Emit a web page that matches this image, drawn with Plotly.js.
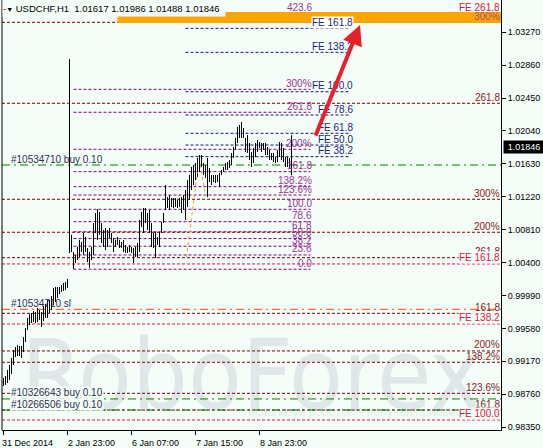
<!DOCTYPE html>
<html><head><meta charset="utf-8">
<script src="https://cdn.plot.ly/plotly-3.0.1.min.js"></script>
<style>html,body{margin:0;padding:0;background:#F5FDF9;}#chart{width:543px;height:448px;}</style>
</head><body><div id="chart"></div>
<script>
// ---------- data ----------
const tickIdx = [0, 32, 64, 96, 128];
const tickText = ["31 Dec 2014", "2 Jan 23:00", "6 Jan 07:00", "7 Jan 15:00", "8 Jan 23:00"];
const priceTicks = [0.98350, 0.98760, 0.99170, 0.99580, 0.99990, 1.00400, 1.00810, 1.01220, 1.01630, 1.02040, 1.02450, 1.02860, 1.03270];

const barHigh = [
0.98962,0.98987,0.99062,0.99124,0.99211,0.99311,0.99348,0.99373,0.99361,0.99361,
0.99473,0.99585,0.99710,0.99760,0.99772,0.99797,0.99785,0.99835,0.99810,0.99785,
0.99859,0.99884,0.99934,0.99934,0.99984,1.00084,1.00096,1.00096,1.00096,1.00121,
1.00146,1.00159,1.00196,1.02937,1.00744,1.00532,1.00495,1.00594,1.00682,1.00657,
1.00769,1.00719,1.00582,1.00532,1.00594,1.00893,1.01018,1.01068,1.01030,1.00893,
1.00806,1.00831,1.00806,1.00831,1.00769,1.00707,1.00682,1.00719,1.00682,1.00657,
1.00682,1.00619,1.00594,1.00619,1.00594,1.00582,1.00594,1.00644,1.00931,1.01030,
1.01080,1.01080,1.01018,1.01055,1.00893,1.00769,1.00781,1.00719,1.00781,1.00906,
1.01018,1.01367,1.01217,1.01242,1.01205,1.01205,1.01205,1.01180,1.01205,1.01217,
1.01242,1.01305,1.01429,1.01492,1.01591,1.01616,1.01641,1.01703,1.01741,1.01741,
1.01641,1.01616,1.01703,1.01579,1.01492,1.01492,1.01492,1.01492,1.01516,1.01554,
1.01591,1.01641,1.01653,1.01678,1.01766,1.01840,1.01953,1.02090,1.02115,1.02152,
1.02077,1.01953,1.01990,1.01890,1.01778,1.01828,1.01890,1.01928,1.01903,1.01890,
1.01890,1.01890,1.01840,1.01803,1.01766,1.01766,1.01716,1.01803,1.01903,1.01890,
1.01828,1.01716,1.01716,1.01703,1.01986];
const barLow = [
0.98862,0.98875,0.98900,0.98937,0.99012,0.99124,0.99224,0.99236,0.99236,0.99211,
0.99286,0.99411,0.99560,0.99622,0.99647,0.99660,0.99647,0.99660,0.99685,0.99598,
0.99672,0.99710,0.99710,0.99772,0.99810,0.99872,0.99909,0.99959,1.00009,1.00034,
1.00046,1.00059,1.00084,1.00520,1.00532,1.00320,1.00395,1.00432,1.00470,1.00532,
1.00495,1.00532,1.00407,1.00333,1.00432,1.00495,1.00769,1.00682,1.00744,1.00644,
1.00594,1.00557,1.00594,1.00707,1.00644,1.00532,1.00594,1.00619,1.00582,1.00582,
1.00532,1.00520,1.00520,1.00532,1.00520,1.00395,1.00470,1.00470,1.00532,1.00844,
1.00769,1.00893,1.00806,1.00769,1.00594,1.00582,1.00457,1.00619,1.00594,1.00769,
1.00893,1.01055,1.01080,1.01055,1.01093,1.01080,1.01093,1.01080,1.01093,1.01018,
1.01055,1.00931,1.01093,1.01180,1.01305,1.01367,1.01429,1.01467,1.01529,1.01591,
1.01492,1.01454,1.01217,1.01404,1.01367,1.01404,1.01392,1.01404,1.01342,1.01492,
1.01529,1.01554,1.01554,1.01579,1.01616,1.01703,1.01803,1.01890,1.01953,1.01953,
1.01953,1.01778,1.01766,1.01678,1.01591,1.01641,1.01716,1.01778,1.01828,1.01778,
1.01803,1.01741,1.01741,1.01678,1.01678,1.01653,1.01641,1.01653,1.01716,1.01678,
1.01653,1.01591,1.01591,1.01579,1.01488];

const lastOpen = 1.01617, lastHigh = 1.01986, lastLow = 1.01488, lastClose = 1.01846;

const purpleLevels = [1.03506,1.02559,1.02273,1.01812,1.01533,1.01346,1.01242,1.01064,1.00910,1.00784,1.00699,1.00604,1.00495,1.00317];
const purpleLabels = ["423.6","300%","261.8","200%","161.8","138.2%","123.6%","100.0","78.6","61.8","50.0","38.2","23.6","0.0"];
const navyLevels = [1.03319,1.03020,1.02529,1.02239,1.02011,1.01865,1.01720];
const navyLabels = ["FE 161.8","FE 138.2","FE 100.0","FE 78.6","FE 61.8","FE 50.0","FE 38.2"];
const maroonLevels = [1.03394,1.02385,1.01189,1.00778,1.00461,0.99768,0.99299,0.99158,0.98771,0.98563];
const maroonLabels = ["300%","261.8","300%","200%","261.8","161.8","200%","138.2%","123.6%","161.8"];
const crimsonLevels = [1.03500,1.00383,0.99635,0.98439];
const crimsonLabels = ["FE 261.8","FE 161.8","FE 138.2","FE 100.0"];
const orderLevels = [1.01616,0.98701,0.98563];
const orderLabels = ["#10534710 buy 0.10","#10326643 buy 0.10","#10266506 buy 0.10"];
const stopLevel = 0.99818;
const stopLabel = "#10534710 sl";
const zoneTop = 1.03522, zoneBottom = 1.03385;
const anchorX = [91.5, 97, null, 98.5, 101];
const anchorY = [1.00470, 1.01529, null, 1.01616, 1.01242];

// ---------- styling ----------
const BG = '#F5FDF9';
const FONT = 'Liberation Sans, Arial, sans-serif';
const DASH = '3px,2px';
const DASHDOT = '8px,4px,2px,4px';
const PURPLE_X = [35, 153.5], NAVY_X = [91, 173.5];
const PURPLE_LABEL_X = 154.5, NAVY_LABEL_X = 175;

// high-low bars as vertical segments
const segX = [], segY = [];
barHigh.forEach((h, i) => { segX.push(i, i, null); segY.push(barLow[i], h, null); });

const shapes = [];
const annotations = [];

// watermark (drawn below everything)
shapes.push({type:'rect', xref:'paper', yref:'paper', x0:0.0, x1:1.0, y0:0.03, y1:0.26,
  line:{width:0}, fillcolor:'rgba(0,0,0,0)', layer:'below',
  label:{text:'RoboForex', textposition:'middle center', font:{family:'Liberation Sans Narrow, DejaVu Sans Condensed, Roboto, sans-serif', size:98, color:'#DEE8E8'}}});
shapes.push({type:'rect', xref:'paper', yref:'paper', x0:0.46, x1:0.96, y0:0.02, y1:0.07,
  line:{width:0}, fillcolor:'rgba(0,0,0,0)', layer:'below',
  label:{text:'используй роботов – получай прибыль', textposition:'middle center', font:{family:FONT, size:12, color:'#E3EDED'}}});

function hl(y, x0, x1, xref, color, dash) {
  shapes.push({type:'line', xref:xref, yref:'y', x0:x0, x1:x1, y0:y, y1:y, layer:'below',
    line:{color:color, width:1, dash:dash}});
}
function lab(text, x, xref, y, anchor, color, bg) {
  const a = {text:text, x:x, xref:xref, y:y, yref:'y', xanchor:anchor, yanchor:'middle', yshift:6,
    showarrow:false, font:{family:FONT, size:10, color:color}, borderpad:0};
  if (bg) a.bgcolor = bg;
  annotations.push(a);
}

maroonLevels.forEach(v => hl(v, 0, 1, 'paper', '#800000', DASH));
crimsonLevels.forEach((v, i) => { if (i > 0) hl(v, 0, 1, 'paper', '#DC143C', DASH); });
purpleLevels.forEach(v => hl(v, PURPLE_X[0], PURPLE_X[1], 'x', '#800080', DASH));
navyLevels.forEach(v => hl(v, NAVY_X[0], NAVY_X[1], 'x', '#191970', DASH));
orderLevels.forEach(v => hl(v, 0, 1, 'paper', '#008000', DASHDOT));
hl(stopLevel, 0, 1, 'paper', '#FF4500', DASHDOT);

// highlighted zone
shapes.push({type:'rect', xref:'x', yref:'y', x0:57, x1:249, y0:zoneBottom, y1:zoneTop,
  fillcolor:'#FFA500', line:{width:0}, layer:'below'});
hl(crimsonLevels[0], 0, 1, 'paper', '#C0307A', DASH);

// left border
shapes.push({type:'line', xref:'paper', yref:'paper', x0:0, x1:0, y0:0, y1:1, line:{color:'#000', width:1}});

// labels
purpleLevels.forEach((v, i) => lab(purpleLabels[i], PURPLE_LABEL_X, 'x', v, 'right', '#993399'));
navyLevels.forEach((v, i) => lab(navyLabels[i], NAVY_LABEL_X, 'x', v, 'right', '#1E1E78', i === 0 ? '#FFFFFF' : null));
maroonLevels.forEach((v, i) => lab(maroonLabels[i], 0.999, 'paper', v, 'right', i === 0 ? '#A0507A' : '#8B1A1A'));
crimsonLevels.forEach((v, i) => lab(crimsonLabels[i], 0.999, 'paper', v, 'right', '#DC143C', i === 0 ? null : BG));
orderLevels.forEach((v, i) => lab(orderLabels[i], 0.016, 'paper', v, 'left', '#2F2F4F', i === 0 ? null : BG));
lab(stopLabel, 0.016, 'paper', stopLevel, 'left', '#2F2F4F');

// title
annotations.push({xref:'paper', yref:'paper', x:0, y:1, xanchor:'left', yanchor:'top', showarrow:false,
  width:222, height:15, align:'left', bgcolor:BG, borderpad:0,
  text:"<span style='color:#8B0000'>-</span><span style='font-size:7px'>▼</span> USDCHF,H1&nbsp; " +
       [lastOpen, lastHigh, lastLow, lastClose].map(v => v.toFixed(5)).join(' '),
  font:{family:FONT, size:9.5, color:'#000'}});

// current price tag
annotations.push({xref:'paper', yref:'y', x:1, y:lastClose, xanchor:'left', yanchor:'middle', xshift:2,
  showarrow:false, text:lastClose.toFixed(5), bgcolor:'#000', borderpad:1, width:38,
  font:{family:FONT, size:9, color:'#FFF'}});

// red arrow
annotations.push({xref:'paper', yref:'paper', x:(360-2)/499, y:1-25/430, ax:-45, ay:112,
  showarrow:true, arrowhead:2, arrowsize:1, arrowwidth:4, arrowcolor:'#E8202A', text:'', standoff:0});

const traces = [
  {type:'scatter', mode:'lines', x:segX, y:segY, connectgaps:false,
   line:{color:'#000', width:1}, hoverinfo:'skip'},
  {type:'scatter', mode:'lines', x:anchorX, y:anchorY, connectgaps:false,
   line:{color:'#E6A01E', width:1, dash:'dot'}, hoverinfo:'skip'}
];

const layout = {
  width:543, height:448, margin:{l:2, r:42, t:0, b:18},
  paper_bgcolor:BG, plot_bgcolor:BG, showlegend:false, hovermode:false,
  font:{family:FONT, size:9, color:'#000'},
  xaxis:{range:[-0.75, 248.75], tickvals:tickIdx, ticktext:tickText, ticks:'outside', ticklen:4,
    tickcolor:'#000', showgrid:false, zeroline:false, showline:true, linecolor:'#000', linewidth:1,
    tickfont:{family:FONT, size:9, color:'#000'}, ticklabelshift:24, automargin:false, fixedrange:true},
  yaxis:{range:[0.98314, 1.03672], side:'right', tickvals:priceTicks, ticktext:priceTicks.map(v => v.toFixed(5)),
    ticks:'outside', ticklen:4, tickcolor:'#000', showgrid:false, zeroline:false, showline:true,
    linecolor:'#000', linewidth:1, tickfont:{family:FONT, size:9, color:'#000'}, automargin:false, fixedrange:true},
  shapes:shapes, annotations:annotations
};
Plotly.newPlot('chart', traces, layout, {staticPlot:true, displayModeBar:false});
</script></body></html>
